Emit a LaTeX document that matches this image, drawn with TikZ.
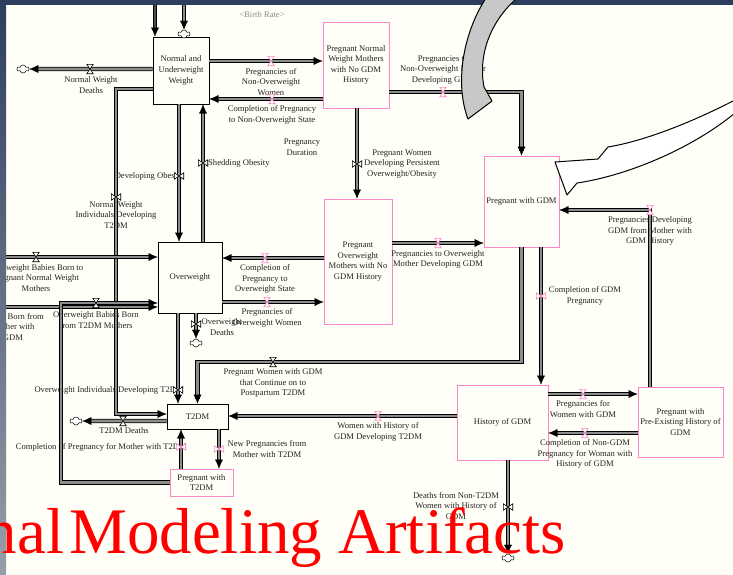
\documentclass[tikz,border=0pt]{standalone}
\usepackage{fontspec}
\setmainfont{Liberation Serif}
\usetikzlibrary{arrows.meta,positioning,shapes.symbols}

\definecolor{paper}{RGB}{255,255,247}
\definecolor{slide}{RGB}{46,62,94}
\definecolor{slidemid}{RGB}{125,145,172}
\definecolor{slidelow}{RGB}{150,158,168}
\definecolor{stockpink}{RGB}{250,135,200}
\definecolor{pipegray}{RGB}{140,140,140}
\definecolor{txt}{RGB}{35,35,35}
\definecolor{calloutgray}{RGB}{200,200,200}

\begin{document}
\begin{tikzpicture}[
  x=1pt, y=-1pt,
  stock/.style={
    draw=black,
    line width=.8pt,
    fill=paper,
    align=center,
    inner sep=0pt,
    text=txt,
    font=\fontsize{8.6}{10.6}\selectfont
  },
  pstock/.style={
    stock,
    draw=stockpink
  },
  flowlbl/.style={
    align=center,
    inner sep=0pt,
    text=txt,
    font=\fontsize{8.6}{10.6}\selectfont
  },
  pipe/.style={
    preaction={draw=black, line width=4.2pt, shorten >=5pt, arrows=-},
    draw=pipegray,
    line width=2.6pt,
    -{Latex[length=9pt, width=8pt, color=black, line width=.3pt]}
  },
  hvalve/.style={inner sep=0pt, minimum width=6pt, minimum height=9pt},
  vvalve/.style={inner sep=0pt, minimum width=9pt, minimum height=6pt},
  valveline/.style={line width=.6pt, fill=paper},
  sink/.style={
    cloud, cloud puffs=6, aspect=1.4,
    draw, fill=white, line width=.5pt,
    inner sep=0pt, minimum width=12pt, minimum height=8pt
  }
]

\useasboundingbox (0,0) rectangle (733,574);
\fill[slide] (0,0) rectangle (733,574);
\fill[paper] (6,5) rectangle (733,574);

% Stocks
\node[stock, minimum width=56pt, minimum height=67pt] (nuw) at (181,70.5)
  {Normal and\\Underweight\\Weight};
\node[pstock, minimum width=66pt, minimum height=86pt] (pnw) at (356,65)
  {Pregnant Normal\\Weight Mothers\\with No GDM\\History};
\node[pstock, minimum width=75pt, minimum height=91pt] (pgdm) at (521.5,201.5)
  {Pregnant with GDM};
\node[stock, minimum width=64pt, minimum height=71pt] (ovw) at (190,277.5)
  {Overweight};
\node[pstock, minimum width=68pt, minimum height=125pt] (pow) at (358,261.5)
  {Pregnant\\Overweight\\Mothers with No\\GDM History};
\node[stock, minimum width=61pt, minimum height=25pt] (t2dm) at (197.5,416.5)
  {T2DM};
\node[pstock, minimum width=63pt, minimum height=27pt] (pt2dm) at (201.5,482.5)
  {Pregnant with\\T2DM};
\node[pstock, minimum width=91pt, minimum height=75pt] (hgdm) at (502.5,422.5)
  {History of GDM};
\node[pstock, minimum width=85pt, minimum height=70pt] (ppre) at (680.5,422)
  {Pregnant with\\Pre-Existing History of\\GDM};

% Valve positions
\node[hvalve] (v-nwd) at (90,69) {};
\node[hvalve] (v-pnow) at (271,61) {};
\node[hvalve] (v-cpnow) at (272,99) {};
\node[hvalve] (v-pnogdm) at (443,92) {};
\node[vvalve] (v-pwdp) at (357,164) {};
\node[vvalve] (v-dob) at (179,176) {};
\node[vvalve] (v-shed) at (203,163) {};
\node[vvalve] (v-nwt2) at (116,197) {};
\node[hvalve] (v-obpn) at (36,257) {};
\node[hvalve] (v-obt2) at (96,303) {};
\node[vvalve] (v-owd) at (196,324) {};
\node[vvalve] (v-oit2) at (178,390) {};
\node[hvalve] (v-gdmt2) at (273,362) {};
\node[hvalve] (v-whgt2) at (378,416) {};
\node[hvalve] (v-t2d) at (123,421) {};
\node[vvalve] (v-cpt2) at (181,447) {};
\node[vvalve] (v-npt2) at (219,449) {};
\node[hvalve] (v-pogdm) at (438,243) {};
\node[hvalve] (v-cpow) at (265,258) {};
\node[hvalve] (v-pow) at (267,302) {};
\node[vvalve] (v-cgdm) at (541,296) {};
\node[hvalve] (v-pfwg) at (583,394) {};
\node[hvalve] (v-cnon) at (585,433) {};
\node[hvalve] (v-pdgdm) at (650,210) {};
\node[vvalve] (v-dnt2) at (508,507) {};

% Clouds
\node[sink] (cl-top) at (184,34) {};
\node[sink] (cl-nwd) at (23,69) {};
\node[sink] (cl-owd) at (196,343) {};
\node[sink] (cl-t2d) at (76,421) {};
\node[sink] (cl-dnt2) at (508,558) {};

\coordinate (src-a) at (155,4);
\coordinate (src-b) at (184,4);
\coordinate (src-obpn) at (0,257);
\coordinate (src-obgdm) at (0,307);
\coordinate (k-nwt2a) at (116,89);
\coordinate (k-nwt2b) at (116,414);
\coordinate (k-obt2) at (61,303);
\coordinate (k-t2d) at (0,421);

% Auxiliaries
\node[flowlbl, text=black!45] (birth) at (262,15) {<Birth Rate>};
\node[flowlbl] (pdur) at (302,147) {Pregnancy\\Duration};

% Flow labels
\node[flowlbl] at (91,85) {Normal Weight\\Deaths};
\node[flowlbl] at (271,82) {Pregnancies of\\Non-Overweight\\Women};
\node[flowlbl] at (272,115) {Completion of Pregnancy\\to Non-Overweight State};
\node[flowlbl] at (443,70) {Pregnancies to\\Non-Overweight Mother\\Developing GDM};
\node[flowlbl] at (402,164) {Pregnant Women\\Developing Persistent\\Overweight/Obesity};
\node[flowlbl, anchor=east] at (184,176) {Developing Obesity};
\node[flowlbl, anchor=west] at (208,163) {Shedding Obesity};
\node[flowlbl] at (116,215) {Normal Weight\\Individuals Developing\\T2DM};
\node[flowlbl] at (36,278) {Overweight Babies Born to\\Pregnant Normal Weight\\Mothers};
\node[flowlbl] at (96,320) {Overweight Babies Born\\from T2DM Mothers};
\node[flowlbl] at (13,327) {Babies Born from\\Mother with\\GDM};
\node[flowlbl] at (222,327) {Overweight\\Deaths};
\node[flowlbl, anchor=east] at (184,390) {Overweight Individuals Developing T2DM};
\node[flowlbl] at (273,383) {Pregnant Women with GDM\\that Continue on to\\Postpartum T2DM};
\node[flowlbl] at (378,432) {Women with History of\\GDM Developing T2DM};
\node[flowlbl] at (124,431) {T2DM Deaths};
\node[flowlbl, anchor=east] at (187,447) {Completion of Pregnancy for Mother with T2DM};
\node[flowlbl] at (267,449) {New Pregnancies from\\Mother with T2DM};
\node[flowlbl] at (438,259.5) {Pregnancies to Overweight\\Mother Developing GDM};
\node[flowlbl] at (265,279) {Completion of\\Pregnancy to\\Overweight State};
\node[flowlbl] at (267,318) {Pregnancies of\\Overweight Women};
\node[flowlbl] at (585,296) {Completion of GDM\\Pregnancy};
\node[flowlbl] at (583,409) {Pregnancies for\\Women with GDM};
\node[flowlbl] at (585,454) {Completion of Non-GDM\\Pregnancy for Woman with\\History of GDM};
\node[flowlbl] at (650,231) {Pregnancies Developing\\GDM from Mother with\\GDM History};
\node[flowlbl] at (456,506) {Deaths from Non-T2DM\\Women with History of\\GDM};

% Flows
\draw[pipe, draw=black!70] (src-a) -- (nuw.north -| src-a);
\draw[pipe] (src-b) -- (cl-top);
\draw[pipe] (nuw.west |- v-nwd) -- (cl-nwd);
\draw[pipe] (nuw.east |- v-pnow) -- (pnw.west |- v-pnow);
\draw[pipe] (pnw.west |- v-cpnow) -- (nuw.east |- v-cpnow);
\draw[pipe] (pnw.east |- v-pnogdm) -| (pgdm.north);
\draw[pipe] (pnw.south -| v-pwdp) -- (pow.north -| v-pwdp);
\draw[pipe] (nuw.south -| v-dob) -- (ovw.north -| v-dob);
\draw[pipe] (ovw.north -| v-shed) -- (nuw.south -| v-shed);
\draw[pipe] (nuw.west |- k-nwt2a) -- (k-nwt2a) -- (k-nwt2b) -- (t2dm.west |- k-nwt2b);
\draw[pipe] (src-obpn) -- (ovw.west |- src-obpn);
\draw[pipe] (src-obgdm) -- (ovw.west |- src-obgdm);
\draw[pipe] (pt2dm.west) -| (k-obt2) -- (ovw.west |- k-obt2);
\draw[pipe] (ovw.south -| v-owd) -- (cl-owd);
\draw[pipe] (ovw.south -| v-oit2) -- (t2dm.north -| v-oit2);
\draw[pipe] (pgdm.south) |- (v-gdmt2.center) -| (t2dm.north);
\draw[pipe] (hgdm.west |- v-whgt2) -- (t2dm.east |- v-whgt2);
\draw[pipe] (t2dm.west |- k-t2d) -- (cl-t2d);
\draw[pipe] (pt2dm.north -| v-cpt2) -- (t2dm.south -| v-cpt2);
\draw[pipe] (t2dm.south -| v-npt2) -- (pt2dm.north -| v-npt2);
\draw[pipe] (pow.east |- v-pogdm) -- (pgdm.west |- v-pogdm);
\draw[pipe] (pow.west |- v-cpow) -- (ovw.east |- v-cpow);
\draw[pipe] (ovw.east |- v-pow) -- (pow.west |- v-pow);
\draw[pipe] (pgdm.south -| v-cgdm) -- (hgdm.north -| v-cgdm);
\draw[pipe] (hgdm.east |- v-pfwg) -- (ppre.west |- v-pfwg);
\draw[pipe] (ppre.west |- v-cnon) -- (hgdm.east |- v-cnon);
\draw[pipe] (ppre.north -| v-pdgdm) -- (v-pdgdm.center) -- (pgdm.east |- v-pdgdm);
\draw[pipe] (hgdm.south -| v-dnt2) -- (cl-dnt2);

% Valve symbols
\foreach \v/\c in {v-nwd/black, v-obpn/black, v-obt2/black, v-gdmt2/black,
    v-t2d/black, v-pnow/stockpink, v-cpnow/stockpink, v-pnogdm/stockpink,
    v-whgt2/stockpink, v-pogdm/stockpink, v-cpow/stockpink, v-pow/stockpink,
    v-pfwg/stockpink, v-cnon/stockpink, v-pdgdm/stockpink}
  \draw[valveline, draw=\c] (\v.north west) -- (\v.north east)
    -- (\v.south west) -- (\v.south east) -- cycle;
\foreach \v/\c in {v-pwdp/black, v-dob/black, v-shed/black, v-nwt2/black,
    v-owd/black, v-oit2/black, v-dnt2/black, v-cpt2/stockpink,
    v-npt2/stockpink, v-cgdm/stockpink}
  \draw[valveline, draw=\c] (\v.north west) -- (\v.south west)
    -- (\v.north east) -- (\v.south east) -- cycle;

% Slide edges
\shade[top color=slide, middle color=slidemid, bottom color=slidelow]
  (0,5) rectangle (6,574);
\fill[slide] (0,0) rectangle (733,5);

% Callout arrows
\draw[fill=calloutgray, line width=1pt, line join=round]
  (486,-2) .. controls (462,35) and (455,85) .. (468,119)
  -- (492,101) -- (484,87)
  .. controls (478,55) and (490,22) .. (517,-2) -- cycle;
\draw[fill=white, line width=1pt, line join=round]
  (735,100) .. controls (700,118) and (650,140) .. (608,147)
  -- (598,159) -- (555,162) -- (567,195) -- (577,183)
  .. controls (625,176) and (690,150) .. (735,113) -- cycle;

% Title
\node[anchor=base east, inner sep=0pt, text=red,
  font=\fontsize{65}{65}\selectfont] (title) at (566,553)
  {nal\kern5pt Modeling Artifacts};

\end{tikzpicture}
\end{document}
